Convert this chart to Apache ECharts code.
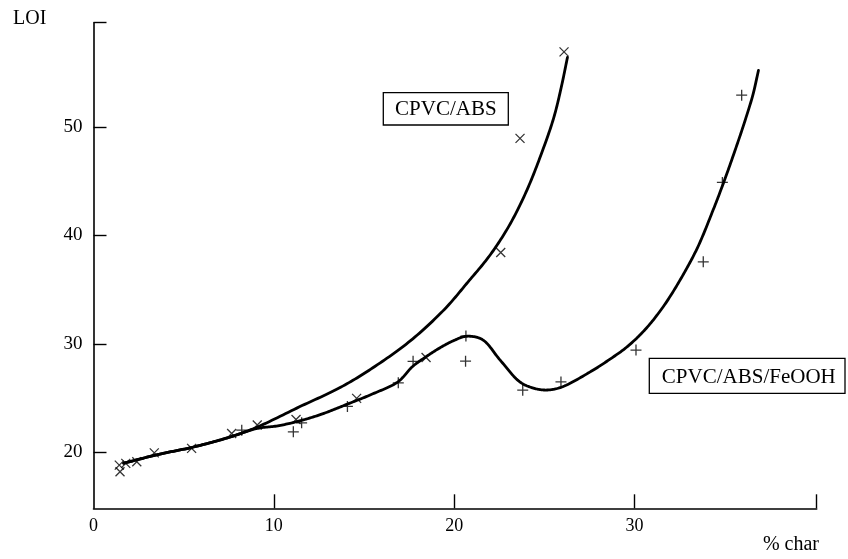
<!DOCTYPE html>
<html>
<head>
<meta charset="utf-8">
<script src="https://cdn.jsdelivr.net/npm/echarts@6/dist/echarts.min.js"></script>
<style>
  html, body { margin: 0; padding: 0; background: #fff; }
  #chart { width: 848px; height: 559px; }
</style>
</head>
<body>
<div id="chart"></div>
<script>
// LOI against % char, measured points for each blend
const cpvcAbsPoints = [
  [1.43, 18.83], [1.47, 18.22], [1.79, 18.99], [2.40, 19.14], [3.37, 19.96],
  [5.44, 20.37], [7.66, 21.75], [9.08, 22.52], [11.23, 23.04], [14.59, 24.98],
  [18.44, 28.75], [22.58, 38.43], [23.65, 48.94], [26.09, 56.91]
];
const cpvcAbsFeoohPoints = [
  [8.22, 22.05], [11.08, 21.90], [11.54, 22.73], [14.08, 24.24], [16.90, 26.41],
  [17.72, 28.39], [20.65, 30.72], [20.63, 28.41], [23.80, 25.74], [25.92, 26.50],
  [30.08, 29.43], [33.81, 37.56], [34.87, 44.88], [35.94, 52.92]
];

// Hand-drawn trend curves through each data set
const cpvcAbsCurve = [
  [1.67, 19.0], [3.56, 19.8], [5.55, 20.5], [7.54, 21.4], [9.03, 22.3],
  [11.42, 24.2], [13.70, 26.0], [15.49, 27.8], [17.58, 30.3], [19.47, 33.2],
  [20.76, 35.7], [21.95, 38.1], [23.05, 40.9], [24.04, 44.2], [24.94, 48.0],
  [25.53, 50.9], [25.93, 53.6], [26.28, 56.4]
];
const cpvcAbsFeoohCurve = [
  [1.67, 19.0], [3.56, 19.8], [5.55, 20.5], [7.54, 21.4], [9.03, 22.2],
  [10.22, 22.45], [11.42, 22.9], [12.61, 23.5], [14.00, 24.4], [15.49, 25.4],
  [16.88, 26.5], [17.68, 27.9], [18.47, 28.85], [19.27, 29.7], [19.97, 30.3],
  [20.66, 30.7], [21.56, 30.4], [22.55, 28.5], [23.64, 26.5], [24.44, 25.9],
  [25.14, 25.75], [25.93, 26.0], [27.52, 27.4], [28.60, 28.55], [29.60, 29.75],
  [30.60, 31.35], [31.60, 33.45], [32.60, 36.1], [33.50, 38.9], [34.30, 42.1],
  [34.88, 44.6], [35.67, 48.3], [36.17, 50.8], [36.57, 53.0], [36.87, 55.2]
];

// Axis ranges and labelled ticks
const xRange = [0, 40.1];
const yRange = [14.85, 59.6];
const xTickLabels = [0, 10, 20, 30];
const yTickLabels = [20, 30, 40, 50];

const SERIF = '"Liberation Serif", "DejaVu Serif", serif';
const CROSS = 'path://M0,0L10,10M10,0L0,10';
const PLUS = 'path://M5,0L5,10M0,5L10,5';

// Centripetal Catmull-Rom through pixel points
function catmullRom(pts, samples) {
  const n = pts.length;
  if (n < 3) return pts.slice();
  const get = (i) => {
    if (i < 0) return [2 * pts[0][0] - pts[1][0], 2 * pts[0][1] - pts[1][1]];
    if (i >= n) return [2 * pts[n - 1][0] - pts[n - 2][0], 2 * pts[n - 1][1] - pts[n - 2][1]];
    return pts[i];
  };
  const step = (a, b) => Math.max(Math.pow(Math.hypot(b[0] - a[0], b[1] - a[1]), 0.5), 1e-4);
  const lerp = (a, b, ta, tb, t) => {
    const k = (t - ta) / (tb - ta);
    return [a[0] + (b[0] - a[0]) * k, a[1] + (b[1] - a[1]) * k];
  };
  const out = [];
  for (let i = 0; i < n - 1; i++) {
    const p0 = get(i - 1), p1 = get(i), p2 = get(i + 1), p3 = get(i + 2);
    const t0 = 0, t1 = t0 + step(p0, p1), t2 = t1 + step(p1, p2), t3 = t2 + step(p2, p3);
    for (let s = 0; s < samples; s++) {
      const t = t1 + (t2 - t1) * s / samples;
      const a1 = lerp(p0, p1, t0, t1, t);
      const a2 = lerp(p1, p2, t1, t2, t);
      const a3 = lerp(p2, p3, t2, t3, t);
      const b1 = lerp(a1, a2, t0, t2, t);
      const b2 = lerp(a2, a3, t1, t3, t);
      out.push(lerp(b1, b2, t1, t2, t));
    }
  }
  out.push(pts[n - 1]);
  return out;
}

function curveSeries(name, data) {
  return {
    name: name,
    type: 'custom',
    data: data,
    silent: true,
    z: 3,
    encode: { x: 0, y: 1 },
    renderItem: function (params, api) {
      if (params.dataIndex !== 0) return null;
      const px = data.map((d) => api.coord(d));
      return {
        type: 'polyline',
        shape: { points: catmullRom(px, 16) },
        style: { stroke: '#000', lineWidth: 2.8, fill: null, lineJoin: 'round', lineCap: 'round' }
      };
    }
  };
}

const chart = echarts.init(document.getElementById('chart'), null, { renderer: 'canvas' });

chart.setOption({
  animation: false,
  backgroundColor: '#fff',
  grid: { left: 93.5, right: 31.3, top: 22.7, bottom: 50.7 },
  xAxis: {
    type: 'value',
    min: xRange[0],
    max: xRange[1],
    axisLine: { onZero: false, lineStyle: { color: '#000', width: 1.6 } },
    axisTick: {
      inside: true, length: 14,
      customValues: [10, 20, 30, xRange[1]],
      lineStyle: { color: '#000', width: 1.4 }
    },
    axisLabel: {
      customValues: xTickLabels,
      color: '#000', fontFamily: SERIF, fontSize: 18, margin: 9
    },
    splitLine: { show: false }
  },
  yAxis: {
    type: 'value',
    min: yRange[0],
    max: yRange[1],
    axisLine: { show: true, onZero: false, lineStyle: { color: '#000', width: 1.6 } },
    axisTick: {
      show: true, inside: true, length: 13,
      customValues: [20, 30, 40, 50, yRange[1]],
      lineStyle: { color: '#000', width: 1.4 }
    },
    axisLabel: {
      customValues: yTickLabels,
      color: '#000', fontFamily: SERIF, fontSize: 19, margin: 11
    },
    splitLine: { show: false }
  },
  graphic: [
    {
      type: 'text', left: 13, top: 9,
      style: { text: 'LOI', font: '20px ' + SERIF, fill: '#000' }
    },
    {
      type: 'text', x: 819, y: 545,
      style: { text: '% char', font: '20px ' + SERIF, fill: '#000', align: 'right', verticalAlign: 'middle' }
    },
    {
      type: 'rect', shape: { x: 383.3, y: 92.7, width: 125, height: 32.3 },
      style: { fill: '#fff', stroke: '#000', lineWidth: 1.3 }, z: 10
    },
    {
      type: 'text', x: 445.8, y: 109.5, z: 11,
      style: { text: 'CPVC/ABS', font: '21px ' + SERIF, fill: '#000', align: 'center', verticalAlign: 'middle' }
    },
    {
      type: 'rect', shape: { x: 649.3, y: 358.3, width: 195.7, height: 35 },
      style: { fill: '#fff', stroke: '#000', lineWidth: 1.3 }, z: 10
    },
    {
      type: 'text', x: 748.8, y: 377, z: 11,
      style: { text: 'CPVC/ABS/FeOOH', font: '21px ' + SERIF, fill: '#000', align: 'center', verticalAlign: 'middle' }
    }
  ],
  series: [
    curveSeries('CPVC/ABS curve', cpvcAbsCurve),
    curveSeries('CPVC/ABS/FeOOH curve', cpvcAbsFeoohCurve),
    {
      name: 'CPVC/ABS', type: 'scatter', data: cpvcAbsPoints,
      symbol: CROSS, symbolSize: 9, z: 5,
      itemStyle: { color: 'none', borderColor: '#000', borderWidth: 1.3 }
    },
    {
      name: 'CPVC/ABS/FeOOH', type: 'scatter', data: cpvcAbsFeoohPoints,
      symbol: PLUS, symbolSize: 11, z: 5,
      itemStyle: { color: 'none', borderColor: '#000', borderWidth: 1.3 }
    }
  ]
});
</script>
</body>
</html>
